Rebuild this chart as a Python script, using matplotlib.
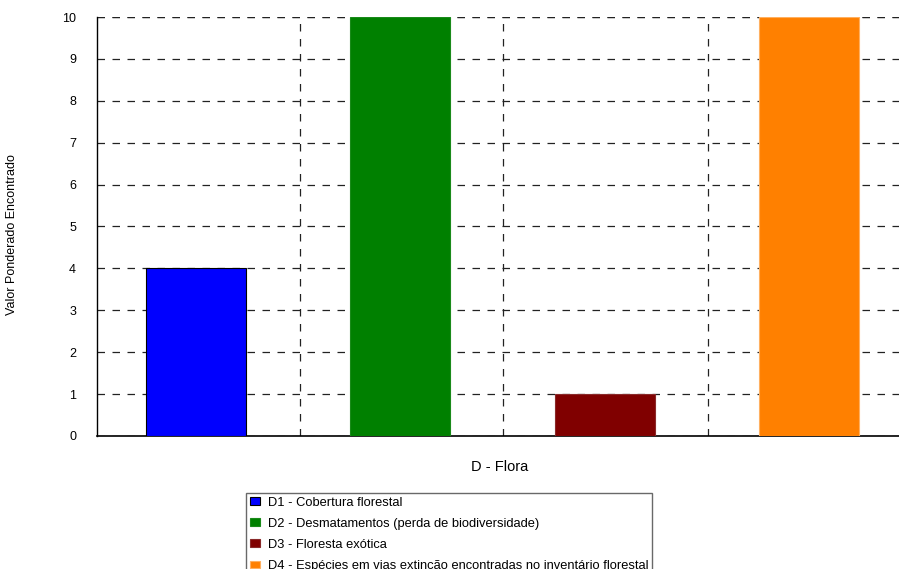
import matplotlib.pyplot as plt

plt.rcParams['font.family'] = ['Liberation Sans', 'DejaVu Sans']

labels = ["D1 - Cobertura florestal",
          "D2 - Desmatamentos (perda de biodiversidade)",
          "D3 - Floresta exótica",
          "D4 - Espécies em vias extinção encontradas no inventário florestal"]
values = [4, 10, 1, 10]
colors = ["#0000ff", "#008000", "#800000", "#ff8000"]
edges = ["#000000", "#1a8a1a", "#8a2a2a", "#ffb060"]

fig = plt.figure(figsize=(8.99, 5.69), dpi=100)
ax = fig.add_axes([97 / 899, 1 - 436 / 569, (914 - 97) / 899, (436 - 17) / 569])

handles = []
for i, (v, c, e, lab) in enumerate(zip(values, colors, edges, labels)):
    b = ax.bar(i - 0.0147, v, width=0.49, color=c, edgecolor=e, linewidth=0.8,
               label=lab, zorder=3)
    handles.append(b)

ax.set_xlim(-0.5, 3.5)
ax.set_ylim(0, 10)
ax.set_yticks(range(0, 11))
ax.set_xticks([])
ax.set_xticks([0.495, 1.49, 2.49], minor=True)
ax.tick_params(axis='y', length=0, pad=15, labelsize=9)
ax.tick_params(axis='x', which='both', length=0)

ax.grid(axis='y', which='major', linestyle=(0, (6, 6)), color='#222222', linewidth=0.9, zorder=1)
ax.grid(axis='x', which='minor', linestyle=(0, (6, 6)), color='#222222', linewidth=0.9, zorder=1)
ax.axhline(10, linestyle=(0, (6, 6)), color='#222222', linewidth=0.9, zorder=1)

for s in ['top', 'right']:
    ax.spines[s].set_visible(False)
ax.spines['left'].set_linewidth(1.0)
ax.spines['bottom'].set_linewidth(1.2)

fig.text(12 / 899, 1 - 235 / 569, "Valor Ponderado Encontrado", rotation=90,
         ha='center', va='center', fontsize=9)
fig.text(500 / 899, 1 - 467 / 569, "D - Flora", ha='center', va='center', fontsize=10.5)

fig.legend(handles=handles, loc='upper left', bbox_to_anchor=(246 / 899, 1 - 493 / 569),
           fontsize=9.3, frameon=True, fancybox=False, edgecolor='#444444',
           handlelength=0.8, handleheight=0.55, handletextpad=0.6, labelspacing=0.7,
           borderaxespad=0, borderpad=0.3)

fig.savefig("out.png", dpi=100)
